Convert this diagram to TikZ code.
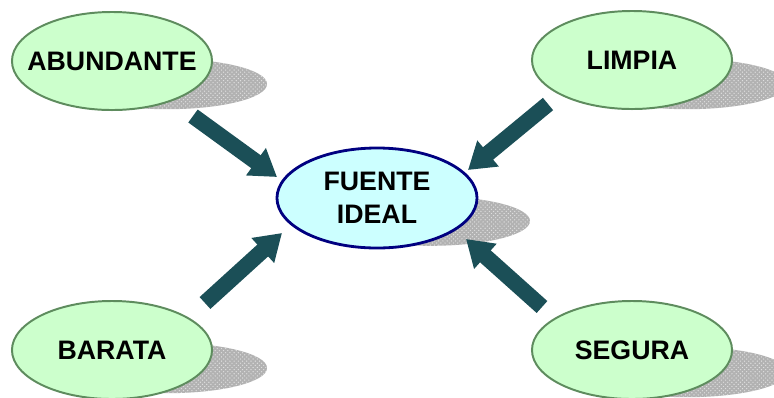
\documentclass[tikz,border=0pt]{standalone}
\usepackage{fontspec}
\setmainfont{Liberation Sans}
\usetikzlibrary{arrows.meta,patterns,shapes.geometric}

\definecolor{leafgreen}{HTML}{CCFFCC}
\definecolor{leafline}{HTML}{5E8C5E}
\definecolor{coreblue}{HTML}{CCFFFF}
\definecolor{coreline}{HTML}{000080}
\definecolor{arrowteal}{HTML}{1B4F57}

\begin{document}
\begin{tikzpicture}[x=0.025cm,y=0.025cm,
  leaf/.style={ellipse,draw=leafline,fill=leafgreen,line width=1.4pt,
    minimum width=5cm,minimum height=2.45cm,inner xsep=-2cm,inner ysep=-1cm,
    font=\fontsize{19}{23}\selectfont\bfseries},
  core/.style={ellipse,draw=coreline,fill=coreblue,line width=2pt,
    minimum width=5cm,minimum height=2.5cm,inner xsep=-2cm,inner ysep=-1cm,
    align=center,font=\fontsize{19}{23.5}\selectfont\bfseries},
  blob/.style={fill=gray!60,postaction={pattern=crosshatch dots,pattern color=gray!25}},
  bigarrow/.style={color=arrowteal,line width=0.4cm,
    -{Triangle[length=0.65cm,width=0.8cm]}}]
 \path[clip,use as bounding box] (0,0) rectangle (774,-397);

 % shadows
 \fill[blob] (167,-84) ellipse [x radius=2.5cm,y radius=0.63cm];
 \fill[blob] (687,-84) ellipse [x radius=2.5cm,y radius=0.63cm];
 \fill[blob] (430,-221) ellipse [x radius=2.5cm,y radius=0.62cm];
 \fill[blob] (167,-368) ellipse [x radius=2.5cm,y radius=0.63cm];
 \fill[blob] (687,-372) ellipse [x radius=2.5cm,y radius=0.63cm];

 \node[leaf] (abundante) at (112,-61) {ABUNDANTE};
 \node[leaf] (limpia) at (632,-60) {LIMPIA};
 \node[core] (fuente) at (377,-198) {FUENTE\\IDEAL};
 \node[leaf] (barata) at (112,-350) {BARATA};
 \node[leaf] (segura) at (632,-350) {SEGURA};

 \coordinate (from_a) at (193,-116);
 \coordinate (to_a) at (277,-177);
 \coordinate (from_l) at (548,-104);
 \coordinate (to_l) at (468,-170);
 \coordinate (from_b) at (205,-303);
 \coordinate (to_b) at (282,-233);
 \coordinate (from_s) at (542,-307);
 \coordinate (to_s) at (466,-239);

 \draw[bigarrow] (from_a) -- (to_a);
 \draw[bigarrow] (from_l) -- (to_l);
 \draw[bigarrow] (from_b) -- (to_b);
 \draw[bigarrow] (from_s) -- (to_s);
\end{tikzpicture}
\end{document}
